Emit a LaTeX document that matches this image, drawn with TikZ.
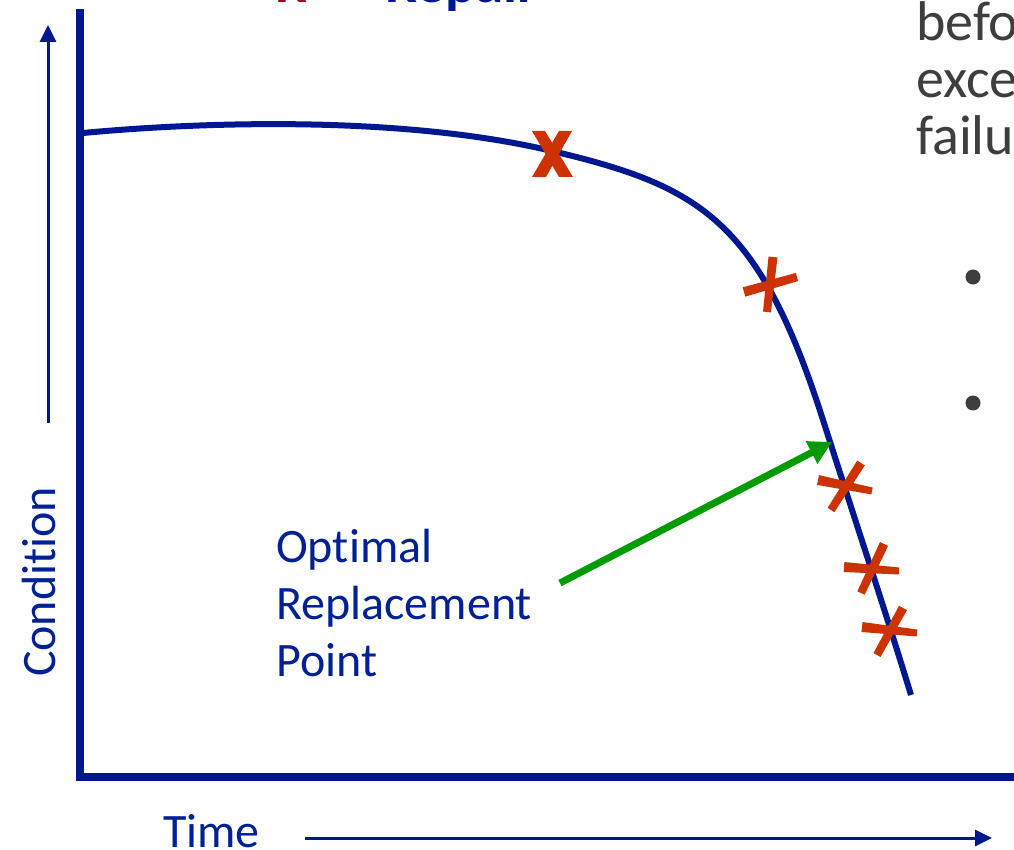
\documentclass[tikz,border=0pt]{standalone}
\usepackage{fontspec}
\setmainfont{Carlito}[Ligatures=NoCommon]
\usetikzlibrary{arrows.meta,calc}
\definecolor{navy}{RGB}{0,24,143}
\definecolor{txtblue}{RGB}{0,32,150}
\definecolor{xred}{RGB}{204,51,0}
\definecolor{arrgreen}{RGB}{0,155,0}
\definecolor{gtext}{RGB}{62,62,62}
\definecolor{titlered}{RGB}{165,0,33}
\newcommand\redbar[4]{\fill[xred] ($(#1)!#3!90:(#2)$) -- ($(#2)!#4!-90:(#1)$) -- ($(#2)!#4!90:(#1)$) -- ($(#1)!#3!-90:(#2)$) -- cycle;}
\begin{document}
\begin{tikzpicture}[x=1pt,y=-1pt,
  axis/.style={navy,line width=8pt,line join=miter},
  axarrow/.style={navy,line width=3pt,-{Triangle[length=17pt,width=16pt]}},
  lbl/.style={txtblue,font=\fontsize{48}{57}\selectfont,inner sep=0pt},
  sidetext/.style={gtext,font=\fontsize{56}{57}\selectfont,inner sep=0pt,align=left},
  titletext/.style={font=\bfseries\fontsize{57}{60}\selectfont,inner sep=0pt},
  curve/.style={navy,line width=6pt},
  pointer/.style={arrgreen,line width=7pt,-{Triangle[length=23pt,width=24pt]}}]
\clip (0,0) rectangle (1014,850);
\fill[white] (0,0) rectangle (1014,850);
% title (cut off)
\node[titletext, text=titlered, anchor=base west] (tr) at (275,3) {R –};
\node[titletext, text=navy, anchor=base west] (tb) at (385,3) {Repair};
% side text (cut off)
\node[sidetext, anchor=base west] (side) at (916,155) {befo\\exce\\failu};
\fill[gtext] (973,277) circle (7.5pt);
\fill[gtext] (973,403) circle (7.5pt);
% axes
\coordinate (ytop) at (80,9);
\coordinate (orig) at (80,777);
\coordinate (xend) at (1030,777);
\draw[axis] (ytop) -- (orig) -- (xend);
\coordinate (ya0) at (48,423);
\coordinate (ya1) at (48,25);
\draw[axarrow] (ya0) -- (ya1);
\coordinate (xa0) at (305,838);
\coordinate (xa1) at (992,838);
\draw[axarrow] (xa0) -- (xa1);
% labels
\node[lbl, rotate=90, anchor=base] (cond) at (55,582) {Condition};
\node[lbl, anchor=base west] (time) at (163,847) {Time};
\node[lbl, anchor=base west, align=left] (orp) at (276,676) {Optimal\\Replacement\\Point};
% curve
\coordinate (c0) at (83,133);
\coordinate (c1) at (552,151);
\coordinate (c2) at (823,420);
\coordinate (c3) at (911,695);
\draw[curve] (c0) .. controls (200,122) and (400,115) .. (c1)
  .. controls (700,186) and (759,220) .. (c2)
  .. controls (855,520) and (885,610) .. (c3);
% green pointer
\coordinate (gstart) at (560,583);
\coordinate (gend) at (832,442);
\draw[pointer] (gstart) -- (gend);
% red crosses
\fill[xred] (532,131) -- (545,131) -- (573,177) -- (559,177) -- cycle;
\fill[xred] (559,131) -- (572,131) -- (546,177) -- (532,177) -- cycle;
\redbar{744,292}{797,277}{4.8pt}{4.2pt}
\redbar{773,257}{767,312}{4.5pt}{4pt}
\redbar{818,480}{872,491}{5pt}{3.5pt}
\redbar{861,463}{831,510}{4.5pt}{4pt}
\redbar{844,567}{899,571}{5pt}{3.5pt}
\redbar{884,544}{861,593}{4.5pt}{4pt}
\redbar{862,627}{917,633}{5pt}{3.5pt}
\redbar{903,608}{877,655}{4.5pt}{4pt}
\end{tikzpicture}
\end{document}
